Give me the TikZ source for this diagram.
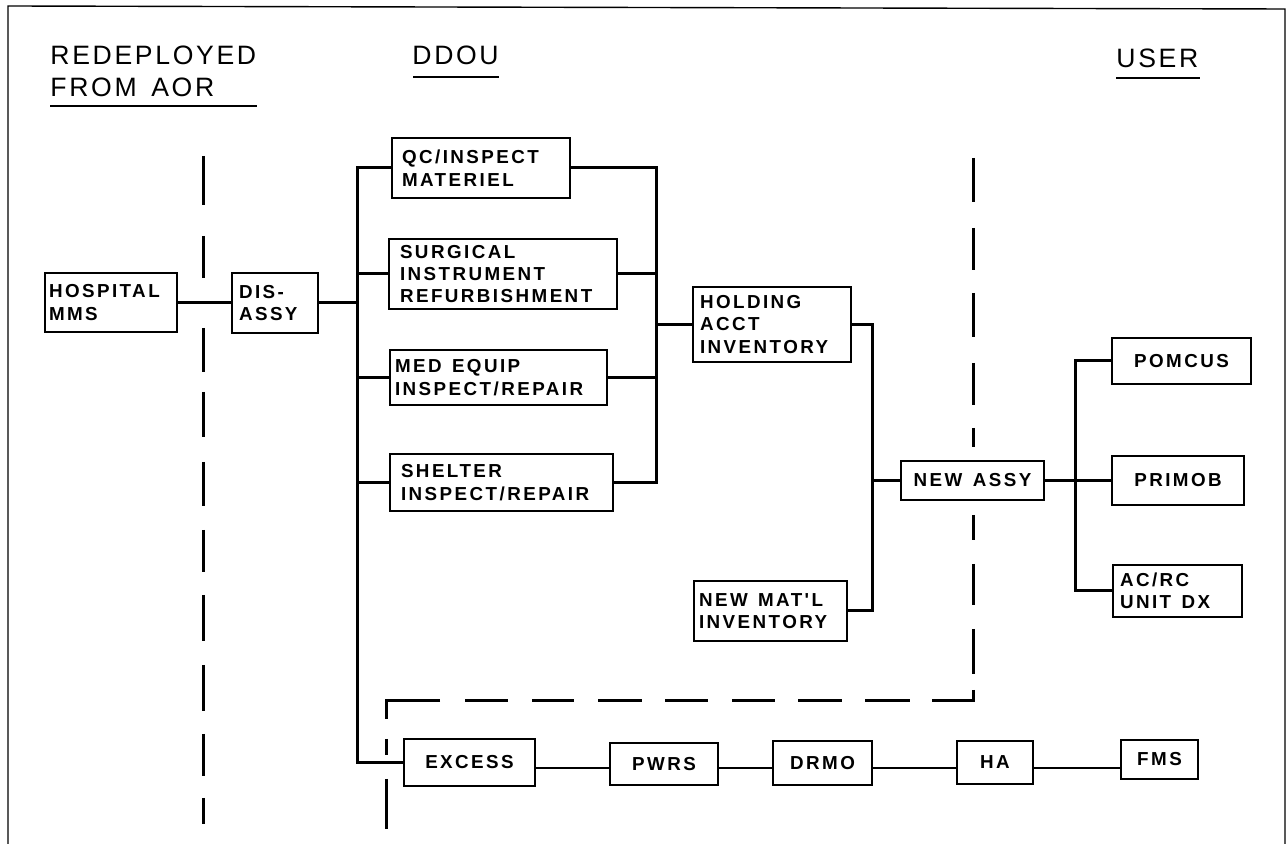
\documentclass[tikz,border=0pt]{standalone}
\usepackage{fontspec}
\setmainfont{Liberation Sans}
\newfontfamily\boxfont[LetterSpace=13,WordSpace=1.7]{Liberation Sans}
\newfontfamily\hdrfont[LetterSpace=10,WordSpace=1.4]{Liberation Sans}
\newcommand\wsp{\hspace{0.55em}}
\begin{document}
\begin{tikzpicture}[x=0.5pt,y=-0.5pt,
  box/.style={draw,line width=0.8pt,inner ysep=0pt,font=\boxfont\bfseries\fontsize{9.4}{11.2}\selectfont},
  lbox/.style={box,align=left},
  conn/.style={line width=1.5pt},
  thinconn/.style={line width=0.7pt},
  dsh/.style={line width=1.5pt},
  hdr/.style={font=\hdrfont\fontsize{13.3}{16}\selectfont,inner sep=0pt},
  uline/.style={line width=1.2pt},
  frameline/.style={line width=0.7pt}]
\useasboundingbox (0,0) rectangle (1287,844);
% frame
\draw[frameline] (8,844) -- (8,6) -- (1285,9) -- (1285,844);
% headers
\node[hdr, anchor=base west, align=left] (hA) at (50,97) {REDEPLOYED\\FROM\wsp AOR};
\node[hdr, anchor=base west] (hB) at (412,65) {DDOU};
\node[hdr, anchor=base west] (hC) at (1116,68) {USER};
\draw[uline] (50,106) -- (257,106);
\draw[uline] (413,77) -- (499,77);
\draw[uline] (1116,78) -- (1200,78);
% boxes
\node[lbox, minimum width=66pt, minimum height=29.5pt, inner xsep=2pt, text width=62pt] (hosp) at (111,302.5) {HOSPITAL\\MMS};
\node[lbox, minimum width=43pt, minimum height=30pt, inner xsep=3.5pt, text width=36pt] (dis) at (275,303) {DIS-\\ASSY};
\node[lbox, minimum width=89pt, minimum height=30pt, inner xsep=5pt, text width=79pt] (qc) at (481,168) {QC/INSPECT\\MATERIEL};
\node[lbox, minimum width=114pt, minimum height=35pt, inner xsep=5.5pt, text width=103pt] (surg) at (503,274) {SURGICAL\\INSTRUMENT\\REFURBISHMENT};
\node[lbox, minimum width=108.5pt, minimum height=27.5pt, inner xsep=2.5pt, text width=103.5pt] (med) at (498.5,377.5) {MED\wsp EQUIP\\INSPECT/REPAIR};
\node[lbox, minimum width=111.5pt, minimum height=28.5pt, inner xsep=5.5pt, text width=100.5pt] (shel) at (501.5,482.5) {SHELTER\\INSPECT/REPAIR};
\node[lbox, minimum width=79pt, minimum height=37.5pt, inner xsep=3.5pt, text width=72pt] (hold) at (772,324.5) {HOLDING\\ACCT\\INVENTORY};
\node[lbox, minimum width=76.5pt, minimum height=30pt, inner xsep=2.5pt, text width=71.5pt] (newmat) at (770.5,611) {NEW\wsp MAT'L\\INVENTORY};
\node[lbox, minimum width=64.5pt, minimum height=26pt, inner xsep=3.5pt, text width=57.5pt] (acrc) at (1177.5,591) {AC/RC\\UNIT\wsp DX};
\node[box, minimum width=71.5pt, minimum height=19.5pt] (newassy) at (972.5,480.5) {NEW\wsp ASSY};
\node[box, minimum width=69.5pt, minimum height=23pt] (pomcus) at (1181.5,361) {POMCUS};
\node[box, minimum width=66pt, minimum height=24.5pt] (primob) at (1178,480.5) {PRIMOB};
\node[box, minimum width=65.5pt, minimum height=23.5pt] (excess) at (469.5,762.5) {EXCESS};
\node[box, minimum width=54pt, minimum height=21pt] (pwrs) at (664,764) {PWRS};
\node[box, minimum width=49.5pt, minimum height=22pt] (drmo) at (822.5,763) {DRMO};
\node[box, minimum width=38pt, minimum height=21.5pt] (ha) at (995,762.5) {HA};
\node[box, minimum width=38.5pt, minimum height=19.5pt] (fms) at (1159.5,759.5) {FMS};
% bus coordinates
\coordinate (bus) at (357,400);
\coordinate (rbus) at (656,300);
\coordinate (mbus) at (872,480);
\coordinate (ubus) at (1075,480);
\coordinate (row) at (0,768);
% connectors
\draw[conn] (hosp.east) -- (hosp.east -| dis.west);
\draw[conn] (dis.east) -- (dis.east -| bus);
\draw[conn] (qc.west) -| (bus) |- (excess.west);
\draw[conn] (surg.west) -- (surg.west -| bus);
\draw[conn] (med.west) -- (med.west -| bus);
\draw[conn] (shel.west) -- (shel.west -| bus);
\draw[conn] (qc.east) -| (rbus) |- (shel.east);
\draw[conn] (surg.east) -- (surg.east -| rbus);
\draw[conn] (med.east) -- (med.east -| rbus);
\draw[conn] (hold.west) -- (hold.west -| rbus);
\draw[conn] (hold.east) -| (mbus) |- (newmat.east);
\draw[conn] (newassy.west) -- (newassy.west -| mbus);
\draw[conn] (newassy.east) -- (newassy.east -| primob.west);
\draw[conn] (pomcus.west) -| (ubus) |- (acrc.west);
\draw[thinconn] (excess.east |- row) -- (pwrs.west |- row);
\draw[thinconn] (pwrs.east |- row) -- (drmo.west |- row);
\draw[thinconn] (drmo.east |- row) -- (ha.west |- row);
\draw[thinconn] (ha.east |- row) -- (fms.west |- row);
% dashed boundaries
\foreach \a/\b in {156/205,236/278,328/372,392/437,462/506,530/572,595/641,665/711,734/776,798/824}
  \draw[dsh] (203,\a) -- (203,\b);
\foreach \a/\b in {158/202,228/270,293/337,363/405,428/447,515/540,564/605,629/674}
  \draw[dsh] (973,\a) -- (973,\b);
\draw[dsh] (973,690) -- (973,701) -- (932,701);
\foreach \a/\b in {865/910,798/842,732/775,665/708,598/642,532/574,465/508}
  \draw[dsh] (\a,701) -- (\b,701);
\draw[dsh] (440,701) -- (386,701) -- (386,719);
\foreach \a/\b in {739/755,779/829}
  \draw[dsh] (386,\a) -- (386,\b);
\end{tikzpicture}
\end{document}
